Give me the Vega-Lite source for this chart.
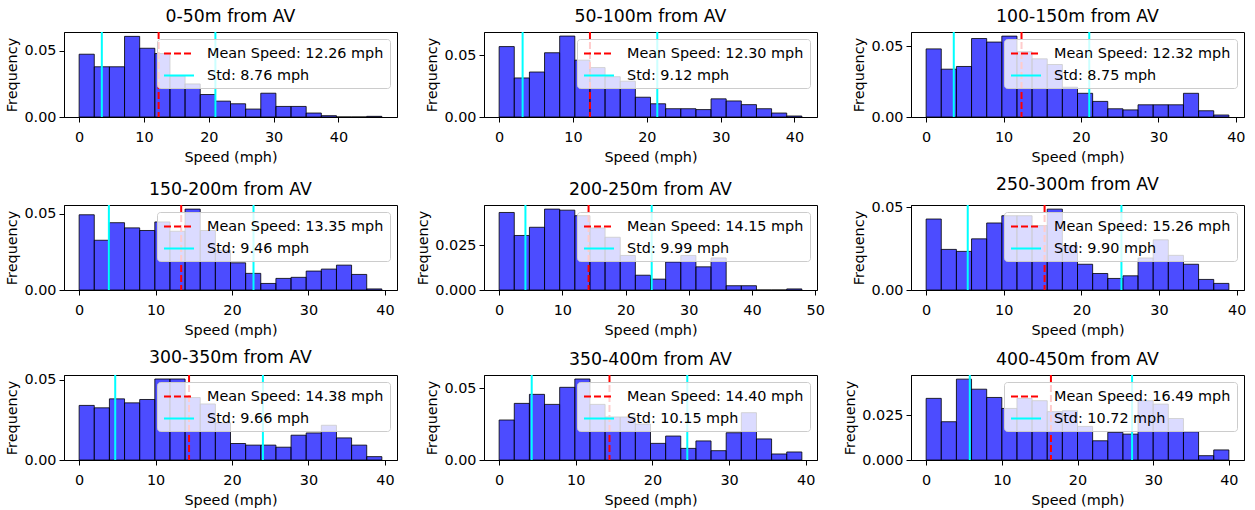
{
"$schema": "https://vega.github.io/schema/vega-lite/v6.json",
"padding": {"left": 4, "top": 7, "right": 5, "bottom": 0},
"columns": 3,
"spacing": {"row": 10, "column": 17},
"config": {
  "font": "DejaVu Sans",
  "view": {"stroke": "black", "strokeWidth": 1},
  "axis": {"grid": false, "domainColor": "black", "tickColor": "black", "labelColor": "black", "titleColor": "black", "labelFontSize": 14.4, "titleFontSize": 14.4, "titleFontWeight": "normal", "tickSize": 5, "labelPadding": 3, "titlePadding": 4, "labelFlush": false},
  "axisX": {"labelPadding": 8, "titlePadding": 7},
  "title": {"fontSize": 17.3, "fontWeight": "normal", "color": "black", "anchor": "middle", "frame": "group", "offset": 6},
  "legend": {"orient": "top-right", "offset": 7, "fillColor": "rgba(255,255,255,0.8)", "strokeColor": "#cccccc", "cornerRadius": 3, "padding": 6, "symbolType": "M-1,0H3", "symbolSize": 225, "symbolStrokeWidth": 2, "labelFontSize": 14.4, "labelLimit": 400, "labelOffset": 27, "rowPadding": 7, "labelColor": "black"}
},
"resolve": {"scale": {"x": "independent", "y": "independent", "color": "independent", "strokeDash": "independent"}, "legend": {"color": "independent", "strokeDash": "independent"}},
"datasets": {
"bars": [
{"p":1,"a":0,"b":2.335,"f":0.0475},{"p":1,"a":2.335,"b":4.67,"f":0.038},{"p":1,"a":4.67,"b":7.005,"f":0.038},{"p":1,"a":7.005,"b":9.34,"f":0.061},{"p":1,"a":9.34,"b":11.675,"f":0.052},{"p":1,"a":11.675,"b":14.01,"f":0.048},{"p":1,"a":14.01,"b":16.345,"f":0.031},{"p":1,"a":16.345,"b":18.68,"f":0.025},{"p":1,"a":18.68,"b":21.015,"f":0.017},{"p":1,"a":21.015,"b":23.35,"f":0.012},{"p":1,"a":23.35,"b":25.685,"f":0.010},{"p":1,"a":25.685,"b":28.02,"f":0.006},{"p":1,"a":28.02,"b":30.355,"f":0.018},{"p":1,"a":30.355,"b":32.69,"f":0.008},{"p":1,"a":32.69,"b":35.025,"f":0.008},{"p":1,"a":35.025,"b":37.36,"f":0.003},{"p":1,"a":37.36,"b":39.695,"f":0.001},{"p":1,"a":39.695,"b":42.03,"f":0},{"p":1,"a":42.03,"b":44.365,"f":0},{"p":1,"a":44.365,"b":46.7,"f":0.0005},
{"p":2,"a":0,"b":2.05,"f":0.057},{"p":2,"a":2.05,"b":4.1,"f":0.0316},{"p":2,"a":4.1,"b":6.15,"f":0.0364},{"p":2,"a":6.15,"b":8.2,"f":0.052},{"p":2,"a":8.2,"b":10.25,"f":0.0655},{"p":2,"a":10.25,"b":12.3,"f":0.046},{"p":2,"a":12.3,"b":14.35,"f":0.040},{"p":2,"a":14.35,"b":16.4,"f":0.0326},{"p":2,"a":16.4,"b":18.45,"f":0.029},{"p":2,"a":18.45,"b":20.5,"f":0.016},{"p":2,"a":20.5,"b":22.55,"f":0.0107},{"p":2,"a":22.55,"b":24.6,"f":0.0067},{"p":2,"a":24.6,"b":26.65,"f":0.0067},{"p":2,"a":26.65,"b":28.7,"f":0.006},{"p":2,"a":28.7,"b":30.75,"f":0.0147},{"p":2,"a":30.75,"b":32.8,"f":0.013},{"p":2,"a":32.8,"b":34.85,"f":0.010},{"p":2,"a":34.85,"b":36.9,"f":0.0067},{"p":2,"a":36.9,"b":38.95,"f":0.0032},{"p":2,"a":38.95,"b":41.0,"f":0.0008},
{"p":3,"a":0,"b":1.955,"f":0.048},{"p":3,"a":1.955,"b":3.91,"f":0.0337},{"p":3,"a":3.91,"b":5.865,"f":0.0356},{"p":3,"a":5.865,"b":7.82,"f":0.0553},{"p":3,"a":7.82,"b":9.775,"f":0.0528},{"p":3,"a":9.775,"b":11.73,"f":0.057},{"p":3,"a":11.73,"b":13.685,"f":0.046},{"p":3,"a":13.685,"b":15.64,"f":0.041},{"p":3,"a":15.64,"b":17.595,"f":0.037},{"p":3,"a":17.595,"b":19.55,"f":0.021},{"p":3,"a":19.55,"b":21.505,"f":0.0167},{"p":3,"a":21.505,"b":23.46,"f":0.011},{"p":3,"a":23.46,"b":25.415,"f":0.0058},{"p":3,"a":25.415,"b":27.37,"f":0.005},{"p":3,"a":27.37,"b":29.325,"f":0.0086},{"p":3,"a":29.325,"b":31.28,"f":0.0086},{"p":3,"a":31.28,"b":33.235,"f":0.0086},{"p":3,"a":33.235,"b":35.19,"f":0.0167},{"p":3,"a":35.19,"b":37.145,"f":0.0044},{"p":3,"a":37.145,"b":39.1,"f":0.0014},
{"p":4,"a":0,"b":1.98,"f":0.0493},{"p":4,"a":1.98,"b":3.96,"f":0.0326},{"p":4,"a":3.96,"b":5.94,"f":0.0441},{"p":4,"a":5.94,"b":7.92,"f":0.0407},{"p":4,"a":7.92,"b":9.9,"f":0.039},{"p":4,"a":9.9,"b":11.88,"f":0.0446},{"p":4,"a":11.88,"b":13.86,"f":0.0385},{"p":4,"a":13.86,"b":15.84,"f":0.053},{"p":4,"a":15.84,"b":17.82,"f":0.039},{"p":4,"a":17.82,"b":19.8,"f":0.026},{"p":4,"a":19.8,"b":21.78,"f":0.0178},{"p":4,"a":21.78,"b":23.76,"f":0.0109},{"p":4,"a":23.76,"b":25.74,"f":0.0043},{"p":4,"a":25.74,"b":27.72,"f":0.0076},{"p":4,"a":27.72,"b":29.7,"f":0.0083},{"p":4,"a":29.7,"b":31.68,"f":0.0124},{"p":4,"a":31.68,"b":33.66,"f":0.0137},{"p":4,"a":33.66,"b":35.64,"f":0.0163},{"p":4,"a":35.64,"b":37.62,"f":0.0102},{"p":4,"a":37.62,"b":39.6,"f":0.0007},
{"p":5,"a":0,"b":2.395,"f":0.0435},{"p":5,"a":2.395,"b":4.79,"f":0.0306},{"p":5,"a":4.79,"b":7.185,"f":0.0352},{"p":5,"a":7.185,"b":9.58,"f":0.0454},{"p":5,"a":9.58,"b":11.975,"f":0.0448},{"p":5,"a":11.975,"b":14.37,"f":0.0417},{"p":5,"a":14.37,"b":16.765,"f":0.0348},{"p":5,"a":16.765,"b":19.16,"f":0.0296},{"p":5,"a":19.16,"b":21.555,"f":0.0194},{"p":5,"a":21.555,"b":23.95,"f":0.0083},{"p":5,"a":23.95,"b":26.345,"f":0.0061},{"p":5,"a":26.345,"b":28.74,"f":0.0157},{"p":5,"a":28.74,"b":31.135,"f":0.0194},{"p":5,"a":31.135,"b":33.53,"f":0.013},{"p":5,"a":33.53,"b":35.925,"f":0.018},{"p":5,"a":35.925,"b":38.32,"f":0.0024},{"p":5,"a":38.32,"b":40.715,"f":0.0024},{"p":5,"a":40.715,"b":43.11,"f":0},{"p":5,"a":43.11,"b":45.505,"f":0},{"p":5,"a":45.505,"b":47.9,"f":0.0006},
{"p":6,"a":0,"b":1.95,"f":0.043},{"p":6,"a":1.95,"b":3.9,"f":0.0246},{"p":6,"a":3.9,"b":5.85,"f":0.0234},{"p":6,"a":5.85,"b":7.8,"f":0.031},{"p":6,"a":7.8,"b":9.75,"f":0.0406},{"p":6,"a":9.75,"b":11.7,"f":0.045},{"p":6,"a":11.7,"b":13.65,"f":0.045},{"p":6,"a":13.65,"b":15.6,"f":0.039},{"p":6,"a":15.6,"b":17.55,"f":0.049},{"p":6,"a":17.55,"b":19.5,"f":0.027},{"p":6,"a":19.5,"b":21.45,"f":0.0156},{"p":6,"a":21.45,"b":23.4,"f":0.010},{"p":6,"a":23.4,"b":25.35,"f":0.007},{"p":6,"a":25.35,"b":27.3,"f":0.0086},{"p":6,"a":27.3,"b":29.25,"f":0.0194},{"p":6,"a":29.25,"b":31.2,"f":0.0304},{"p":6,"a":31.2,"b":33.15,"f":0.021},{"p":6,"a":33.15,"b":35.1,"f":0.0156},{"p":6,"a":35.1,"b":37.05,"f":0.0064},{"p":6,"a":37.05,"b":39.0,"f":0.004},
{"p":7,"a":0,"b":1.98,"f":0.0341},{"p":7,"a":1.98,"b":3.96,"f":0.0326},{"p":7,"a":3.96,"b":5.94,"f":0.0382},{"p":7,"a":5.94,"b":7.92,"f":0.0357},{"p":7,"a":7.92,"b":9.9,"f":0.0378},{"p":7,"a":9.9,"b":11.88,"f":0.0506},{"p":7,"a":11.88,"b":13.86,"f":0.0506},{"p":7,"a":13.86,"b":15.84,"f":0.039},{"p":7,"a":15.84,"b":17.82,"f":0.035},{"p":7,"a":17.82,"b":19.8,"f":0.0233},{"p":7,"a":19.8,"b":21.78,"f":0.0103},{"p":7,"a":21.78,"b":23.76,"f":0.0093},{"p":7,"a":23.76,"b":25.74,"f":0.0093},{"p":7,"a":25.74,"b":27.72,"f":0.008},{"p":7,"a":27.72,"b":29.7,"f":0.0155},{"p":7,"a":29.7,"b":31.68,"f":0.0169},{"p":7,"a":31.68,"b":33.66,"f":0.0217},{"p":7,"a":33.66,"b":35.64,"f":0.0138},{"p":7,"a":35.64,"b":37.62,"f":0.0093},{"p":7,"a":37.62,"b":39.6,"f":0.0021},
{"p":8,"a":0,"b":1.975,"f":0.0279},{"p":8,"a":1.975,"b":3.95,"f":0.0395},{"p":8,"a":3.95,"b":5.925,"f":0.0458},{"p":8,"a":5.925,"b":7.9,"f":0.0388},{"p":8,"a":7.9,"b":9.875,"f":0.0507},{"p":8,"a":9.875,"b":11.85,"f":0.0565},{"p":8,"a":11.85,"b":13.825,"f":0.0388},{"p":8,"a":13.825,"b":15.8,"f":0.030},{"p":8,"a":15.8,"b":17.775,"f":0.030},{"p":8,"a":17.775,"b":19.75,"f":0.0251},{"p":8,"a":19.75,"b":21.725,"f":0.0116},{"p":8,"a":21.725,"b":23.7,"f":0.0167},{"p":8,"a":23.7,"b":25.675,"f":0.0081},{"p":8,"a":25.675,"b":27.65,"f":0.0133},{"p":8,"a":27.65,"b":29.625,"f":0.0065},{"p":8,"a":29.625,"b":31.6,"f":0.019},{"p":8,"a":31.6,"b":33.575,"f":0.033},{"p":8,"a":33.575,"b":35.55,"f":0.0147},{"p":8,"a":35.55,"b":37.525,"f":0.0042},{"p":8,"a":37.525,"b":39.5,"f":0.0056},
{"p":9,"a":0,"b":2,"f":0.0343},{"p":9,"a":2,"b":4,"f":0.0213},{"p":9,"a":4,"b":6,"f":0.045},{"p":9,"a":6,"b":8,"f":0.0394},{"p":9,"a":8,"b":10,"f":0.0348},{"p":9,"a":10,"b":12,"f":0.0287},{"p":9,"a":12,"b":14,"f":0.0343},{"p":9,"a":14,"b":16,"f":0.033},{"p":9,"a":16,"b":18,"f":0.0269},{"p":9,"a":18,"b":20,"f":0.0274},{"p":9,"a":20,"b":22,"f":0.0187},{"p":9,"a":22,"b":24,"f":0.0107},{"p":9,"a":24,"b":26,"f":0.0154},{"p":9,"a":26,"b":28,"f":0.0144},{"p":9,"a":28,"b":30,"f":0.033},{"p":9,"a":30,"b":32,"f":0.0311},{"p":9,"a":32,"b":34,"f":0.0231},{"p":9,"a":34,"b":36,"f":0.0157},{"p":9,"a":36,"b":38,"f":0.0024},{"p":9,"a":38,"b":40,"f":0.0056}
],
"lines": [
{"p":1,"k":"Mean Speed: 12.26 mph","x":12.26},{"p":1,"k":"Std: 8.76 mph","x":3.50},{"p":1,"k":"Std: 8.76 mph","x":21.02},
{"p":2,"k":"Mean Speed: 12.30 mph","x":12.30},{"p":2,"k":"Std: 9.12 mph","x":3.18},{"p":2,"k":"Std: 9.12 mph","x":21.42},
{"p":3,"k":"Mean Speed: 12.32 mph","x":12.32},{"p":3,"k":"Std: 8.75 mph","x":3.57},{"p":3,"k":"Std: 8.75 mph","x":21.07},
{"p":4,"k":"Mean Speed: 13.35 mph","x":13.35},{"p":4,"k":"Std: 9.46 mph","x":3.89},{"p":4,"k":"Std: 9.46 mph","x":22.81},
{"p":5,"k":"Mean Speed: 14.15 mph","x":14.15},{"p":5,"k":"Std: 9.99 mph","x":4.16},{"p":5,"k":"Std: 9.99 mph","x":24.14},
{"p":6,"k":"Mean Speed: 15.26 mph","x":15.26},{"p":6,"k":"Std: 9.90 mph","x":5.36},{"p":6,"k":"Std: 9.90 mph","x":25.16},
{"p":7,"k":"Mean Speed: 14.38 mph","x":14.38},{"p":7,"k":"Std: 9.66 mph","x":4.72},{"p":7,"k":"Std: 9.66 mph","x":24.04},
{"p":8,"k":"Mean Speed: 14.40 mph","x":14.40},{"p":8,"k":"Std: 10.15 mph","x":4.25},{"p":8,"k":"Std: 10.15 mph","x":24.55},
{"p":9,"k":"Mean Speed: 16.49 mph","x":16.49},{"p":9,"k":"Std: 10.72 mph","x":5.77},{"p":9,"k":"Std: 10.72 mph","x":27.21}
]
},
"concat": [
{"title": "0-50m from AV", "width": 333, "height": 85, "layer": [
 {"data": {"name": "bars"}, "transform": [{"filter": "datum.p == 1"}], "mark": {"type": "bar", "fill": "blue", "fillOpacity": 0.7, "stroke": "black", "strokeOpacity": 0.8, "strokeWidth": 1},
  "encoding": {"x": {"field": "a", "type": "quantitative", "scale": {"domain": [-2.335, 49.035], "nice": false, "zero": false}, "axis": {"title": "Speed (mph)", "values": [0,10,20,30,40]}}, "x2": {"field": "b"},
   "y": {"field": "f", "type": "quantitative", "scale": {"domain": [0, 0.0643], "nice": false}, "axis": {"title": "Frequency", "values": [0, 0.05], "format": ".2f"}}, "y2": {"datum": 0}}},
 {"data": {"name": "lines"}, "transform": [{"filter": "datum.p == 1"}], "mark": {"type": "rule", "strokeWidth": 2},
  "encoding": {"x": {"field": "x", "type": "quantitative", "scale": {"domain": [-2.335, 49.035], "nice": false, "zero": false}, "axis": {"title": "Speed (mph)", "values": [0,10,20,30,40]}},
   "color": {"field": "k", "type": "nominal", "scale": {"range": ["red", "cyan"]}, "legend": {"title": null}},
   "strokeDash": {"field": "k", "type": "nominal", "scale": {"range": [[7,3],[1,0]]}, "legend": {"title": null}}}}
]},
{"title": "50-100m from AV", "width": 333, "height": 85, "layer": [
 {"data": {"name": "bars"}, "transform": [{"filter": "datum.p == 2"}], "mark": {"type": "bar", "fill": "blue", "fillOpacity": 0.7, "stroke": "black", "strokeOpacity": 0.8, "strokeWidth": 1},
  "encoding": {"x": {"field": "a", "type": "quantitative", "scale": {"domain": [-2.05, 43.05], "nice": false, "zero": false}, "axis": {"title": "Speed (mph)", "values": [0,10,20,30,40]}}, "x2": {"field": "b"},
   "y": {"field": "f", "type": "quantitative", "scale": {"domain": [0, 0.0688], "nice": false}, "axis": {"title": "Frequency", "values": [0, 0.05], "format": ".2f"}}, "y2": {"datum": 0}}},
 {"data": {"name": "lines"}, "transform": [{"filter": "datum.p == 2"}], "mark": {"type": "rule", "strokeWidth": 2},
  "encoding": {"x": {"field": "x", "type": "quantitative", "scale": {"domain": [-2.05, 43.05], "nice": false, "zero": false}, "axis": {"title": "Speed (mph)", "values": [0,10,20,30,40]}},
   "color": {"field": "k", "type": "nominal", "scale": {"range": ["red", "cyan"]}, "legend": {"title": null}},
   "strokeDash": {"field": "k", "type": "nominal", "scale": {"range": [[7,3],[1,0]]}, "legend": {"title": null}}}}
]},
{"title": "100-150m from AV", "width": 333, "height": 85, "layer": [
 {"data": {"name": "bars"}, "transform": [{"filter": "datum.p == 3"}], "mark": {"type": "bar", "fill": "blue", "fillOpacity": 0.7, "stroke": "black", "strokeOpacity": 0.8, "strokeWidth": 1},
  "encoding": {"x": {"field": "a", "type": "quantitative", "scale": {"domain": [-1.955, 41.055], "nice": false, "zero": false}, "axis": {"title": "Speed (mph)", "values": [0,10,20,30,40]}}, "x2": {"field": "b"},
   "y": {"field": "f", "type": "quantitative", "scale": {"domain": [0, 0.0599], "nice": false}, "axis": {"title": "Frequency", "values": [0, 0.05], "format": ".2f"}}, "y2": {"datum": 0}}},
 {"data": {"name": "lines"}, "transform": [{"filter": "datum.p == 3"}], "mark": {"type": "rule", "strokeWidth": 2},
  "encoding": {"x": {"field": "x", "type": "quantitative", "scale": {"domain": [-1.955, 41.055], "nice": false, "zero": false}, "axis": {"title": "Speed (mph)", "values": [0,10,20,30,40]}},
   "color": {"field": "k", "type": "nominal", "scale": {"range": ["red", "cyan"]}, "legend": {"title": null}},
   "strokeDash": {"field": "k", "type": "nominal", "scale": {"range": [[7,3],[1,0]]}, "legend": {"title": null}}}}
]},
{"title": "150-200m from AV", "width": 333, "height": 85, "layer": [
 {"data": {"name": "bars"}, "transform": [{"filter": "datum.p == 4"}], "mark": {"type": "bar", "fill": "blue", "fillOpacity": 0.7, "stroke": "black", "strokeOpacity": 0.8, "strokeWidth": 1},
  "encoding": {"x": {"field": "a", "type": "quantitative", "scale": {"domain": [-1.98, 41.58], "nice": false, "zero": false}, "axis": {"title": "Speed (mph)", "values": [0,10,20,30,40]}}, "x2": {"field": "b"},
   "y": {"field": "f", "type": "quantitative", "scale": {"domain": [0, 0.0557], "nice": false}, "axis": {"title": "Frequency", "values": [0, 0.05], "format": ".2f"}}, "y2": {"datum": 0}}},
 {"data": {"name": "lines"}, "transform": [{"filter": "datum.p == 4"}], "mark": {"type": "rule", "strokeWidth": 2},
  "encoding": {"x": {"field": "x", "type": "quantitative", "scale": {"domain": [-1.98, 41.58], "nice": false, "zero": false}, "axis": {"title": "Speed (mph)", "values": [0,10,20,30,40]}},
   "color": {"field": "k", "type": "nominal", "scale": {"range": ["red", "cyan"]}, "legend": {"title": null}},
   "strokeDash": {"field": "k", "type": "nominal", "scale": {"range": [[7,3],[1,0]]}, "legend": {"title": null}}}}
]},
{"title": "200-250m from AV", "width": 333, "height": 85, "layer": [
 {"data": {"name": "bars"}, "transform": [{"filter": "datum.p == 5"}], "mark": {"type": "bar", "fill": "blue", "fillOpacity": 0.7, "stroke": "black", "strokeOpacity": 0.8, "strokeWidth": 1},
  "encoding": {"x": {"field": "a", "type": "quantitative", "scale": {"domain": [-2.395, 50.295], "nice": false, "zero": false}, "axis": {"title": "Speed (mph)", "values": [0,10,20,30,40,50]}}, "x2": {"field": "b"},
   "y": {"field": "f", "type": "quantitative", "scale": {"domain": [0, 0.0477], "nice": false}, "axis": {"title": "Frequency", "values": [0, 0.025], "format": ".3f"}}, "y2": {"datum": 0}}},
 {"data": {"name": "lines"}, "transform": [{"filter": "datum.p == 5"}], "mark": {"type": "rule", "strokeWidth": 2},
  "encoding": {"x": {"field": "x", "type": "quantitative", "scale": {"domain": [-2.395, 50.295], "nice": false, "zero": false}, "axis": {"title": "Speed (mph)", "values": [0,10,20,30,40,50]}},
   "color": {"field": "k", "type": "nominal", "scale": {"range": ["red", "cyan"]}, "legend": {"title": null}},
   "strokeDash": {"field": "k", "type": "nominal", "scale": {"range": [[7,3],[1,0]]}, "legend": {"title": null}}}}
]},
{"title": "250-300m from AV", "width": 333, "height": 85, "layer": [
 {"data": {"name": "bars"}, "transform": [{"filter": "datum.p == 6"}], "mark": {"type": "bar", "fill": "blue", "fillOpacity": 0.7, "stroke": "black", "strokeOpacity": 0.8, "strokeWidth": 1},
  "encoding": {"x": {"field": "a", "type": "quantitative", "scale": {"domain": [-1.95, 40.95], "nice": false, "zero": false}, "axis": {"title": "Speed (mph)", "values": [0,10,20,30,40]}}, "x2": {"field": "b"},
   "y": {"field": "f", "type": "quantitative", "scale": {"domain": [0, 0.0515], "nice": false}, "axis": {"title": "Frequency", "values": [0, 0.05], "format": ".2f"}}, "y2": {"datum": 0}}},
 {"data": {"name": "lines"}, "transform": [{"filter": "datum.p == 6"}], "mark": {"type": "rule", "strokeWidth": 2},
  "encoding": {"x": {"field": "x", "type": "quantitative", "scale": {"domain": [-1.95, 40.95], "nice": false, "zero": false}, "axis": {"title": "Speed (mph)", "values": [0,10,20,30,40]}},
   "color": {"field": "k", "type": "nominal", "scale": {"range": ["red", "cyan"]}, "legend": {"title": null}},
   "strokeDash": {"field": "k", "type": "nominal", "scale": {"range": [[7,3],[1,0]]}, "legend": {"title": null}}}}
]},
{"title": "300-350m from AV", "width": 333, "height": 85, "layer": [
 {"data": {"name": "bars"}, "transform": [{"filter": "datum.p == 7"}], "mark": {"type": "bar", "fill": "blue", "fillOpacity": 0.7, "stroke": "black", "strokeOpacity": 0.8, "strokeWidth": 1},
  "encoding": {"x": {"field": "a", "type": "quantitative", "scale": {"domain": [-1.98, 41.58], "nice": false, "zero": false}, "axis": {"title": "Speed (mph)", "values": [0,10,20,30,40]}}, "x2": {"field": "b"},
   "y": {"field": "f", "type": "quantitative", "scale": {"domain": [0, 0.0531], "nice": false}, "axis": {"title": "Frequency", "values": [0, 0.05], "format": ".2f"}}, "y2": {"datum": 0}}},
 {"data": {"name": "lines"}, "transform": [{"filter": "datum.p == 7"}], "mark": {"type": "rule", "strokeWidth": 2},
  "encoding": {"x": {"field": "x", "type": "quantitative", "scale": {"domain": [-1.98, 41.58], "nice": false, "zero": false}, "axis": {"title": "Speed (mph)", "values": [0,10,20,30,40]}},
   "color": {"field": "k", "type": "nominal", "scale": {"range": ["red", "cyan"]}, "legend": {"title": null}},
   "strokeDash": {"field": "k", "type": "nominal", "scale": {"range": [[7,3],[1,0]]}, "legend": {"title": null}}}}
]},
{"title": "350-400m from AV", "width": 333, "height": 85, "layer": [
 {"data": {"name": "bars"}, "transform": [{"filter": "datum.p == 8"}], "mark": {"type": "bar", "fill": "blue", "fillOpacity": 0.7, "stroke": "black", "strokeOpacity": 0.8, "strokeWidth": 1},
  "encoding": {"x": {"field": "a", "type": "quantitative", "scale": {"domain": [-1.975, 41.475], "nice": false, "zero": false}, "axis": {"title": "Speed (mph)", "values": [0,10,20,30,40]}}, "x2": {"field": "b"},
   "y": {"field": "f", "type": "quantitative", "scale": {"domain": [0, 0.0593], "nice": false}, "axis": {"title": "Frequency", "values": [0, 0.05], "format": ".2f"}}, "y2": {"datum": 0}}},
 {"data": {"name": "lines"}, "transform": [{"filter": "datum.p == 8"}], "mark": {"type": "rule", "strokeWidth": 2},
  "encoding": {"x": {"field": "x", "type": "quantitative", "scale": {"domain": [-1.975, 41.475], "nice": false, "zero": false}, "axis": {"title": "Speed (mph)", "values": [0,10,20,30,40]}},
   "color": {"field": "k", "type": "nominal", "scale": {"range": ["red", "cyan"]}, "legend": {"title": null}},
   "strokeDash": {"field": "k", "type": "nominal", "scale": {"range": [[7,3],[1,0]]}, "legend": {"title": null}}}}
]},
{"title": "400-450m from AV", "width": 333, "height": 85, "layer": [
 {"data": {"name": "bars"}, "transform": [{"filter": "datum.p == 9"}], "mark": {"type": "bar", "fill": "blue", "fillOpacity": 0.7, "stroke": "black", "strokeOpacity": 0.8, "strokeWidth": 1},
  "encoding": {"x": {"field": "a", "type": "quantitative", "scale": {"domain": [-2, 42], "nice": false, "zero": false}, "axis": {"title": "Speed (mph)", "values": [0,10,20,30,40]}}, "x2": {"field": "b"},
   "y": {"field": "f", "type": "quantitative", "scale": {"domain": [0, 0.0473], "nice": false}, "axis": {"title": "Frequency", "values": [0, 0.025], "format": ".3f"}}, "y2": {"datum": 0}}},
 {"data": {"name": "lines"}, "transform": [{"filter": "datum.p == 9"}], "mark": {"type": "rule", "strokeWidth": 2},
  "encoding": {"x": {"field": "x", "type": "quantitative", "scale": {"domain": [-2, 42], "nice": false, "zero": false}, "axis": {"title": "Speed (mph)", "values": [0,10,20,30,40]}},
   "color": {"field": "k", "type": "nominal", "scale": {"range": ["red", "cyan"]}, "legend": {"title": null}},
   "strokeDash": {"field": "k", "type": "nominal", "scale": {"range": [[7,3],[1,0]]}, "legend": {"title": null}}}}
]}
]
}
